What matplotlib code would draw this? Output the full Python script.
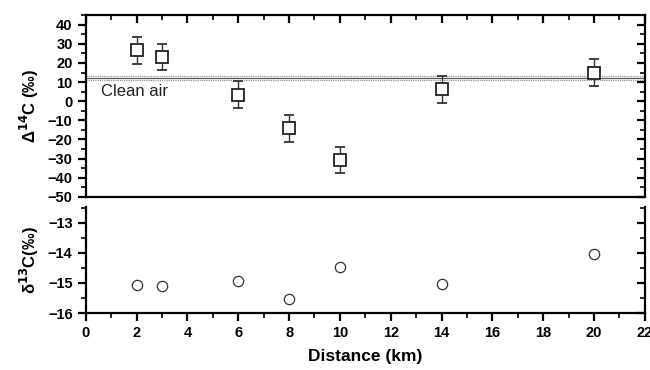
import matplotlib
matplotlib.use('Agg')
import matplotlib.pyplot as plt
from matplotlib.ticker import MultipleLocator

plt.rcParams['font.family'] = ['Liberation Sans', 'DejaVu Sans']

# data
distance = [2, 3, 6, 8, 10, 14, 20]
d14c = [26.6, 23.1, 3.4, -14.1, -30.7, 6.3, 15.0]
d14c_err = [7, 7, 7, 7, 7, 7, 7]
d13c = [-15.07, -15.11, -14.93, -15.52, -14.48, -15.02, -14.03]
clean_air = 12.0
clean_air_err = 1.0

fig = plt.figure(figsize=(6.5, 3.7), dpi=100)
ax1 = fig.add_axes([0.132, 0.468, 0.860, 0.491])
ax2 = fig.add_axes([0.132, 0.154, 0.860, 0.287])

# top panel
ax1.axhline(clean_air, color='#555555', lw=0.9)
ax1.axhline(clean_air + clean_air_err, color='#888888', lw=0.8, ls=(0, (1, 1)))
ax1.axhline(clean_air - clean_air_err, color='#888888', lw=0.8, ls=(0, (1, 1)))
ax1.errorbar(distance, d14c, yerr=d14c_err, fmt='s', ms=8.5, mfc='white',
             mec='#222222', mew=1.3, ecolor='#333333', elinewidth=1.0,
             capsize=3.5, capthick=1.0, zorder=3)
ax1.text(0.6, 5.0, 'Clean air', fontsize=12, color='#222222', va='center')
ax1.set_xlim(0, 22)
ax1.set_ylim(-50, 45)
ax1.yaxis.set_major_locator(MultipleLocator(10))
ax1.yaxis.set_minor_locator(MultipleLocator(5))
ax1.xaxis.set_major_locator(MultipleLocator(2))
ax1.xaxis.set_minor_locator(MultipleLocator(1))
ax1.set_ylabel('Δ$^{\\mathbf{14}}$C (‰)', fontsize=12, fontweight='bold', labelpad=5)
ax1.tick_params(axis='x', which='both', bottom=False, labelbottom=False,
                top=True, direction='in')

# bottom panel
ax2.scatter(distance, d13c, s=55, facecolors='white', edgecolors='#333333',
            linewidths=0.9, zorder=3)
ax2.set_xlim(0, 22)
ax2.set_ylim(-16, -12.47)
ax2.yaxis.set_major_locator(MultipleLocator(1))
ax2.yaxis.set_minor_locator(MultipleLocator(0.5))
ax2.xaxis.set_major_locator(MultipleLocator(2))
ax2.xaxis.set_minor_locator(MultipleLocator(1))
ax2.spines['top'].set_visible(False)
ax2.set_ylabel('δ$^{\\mathbf{13}}$C(‰)', fontsize=12, fontweight='bold', labelpad=5)
ax2.set_xlabel('Distance (km)', fontsize=12.5, fontweight='bold', labelpad=6)
ax2.tick_params(axis='x', which='both', direction='out')

for ax in (ax1, ax2):
    for sp in ax.spines.values():
        sp.set_linewidth(1.6)
    ax.tick_params(which='major', length=6, width=1.6, labelsize=10.5)
    ax.tick_params(which='minor', length=3.5, width=1.2)
    ax.tick_params(axis='y', which='both', direction='out', left=True, right=True)
    for lab in ax.get_xticklabels() + ax.get_yticklabels():
        lab.set_fontweight('bold')

# right-side ticks point inward while the left ones point outward
for ax in (ax1, ax2):
    for t in ax.yaxis.get_major_ticks() + ax.yaxis.get_minor_ticks():
        t.tick2line.set_marker(matplotlib.lines.TICKLEFT)

fig.savefig('out.png', dpi=100)
